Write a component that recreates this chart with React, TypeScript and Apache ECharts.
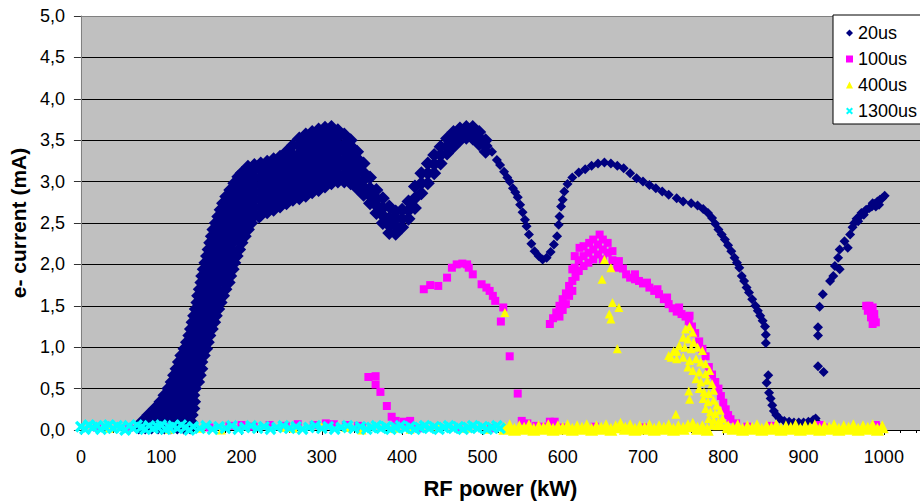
import React, { useEffect, useRef } from "react";
import * as echarts from "echarts";

const FONT = "'Liberation Sans', Arial, sans-serif";

const seriesNames = ["20us", "100us", "400us", "1300us"];
const xTickValues = [0, 100, 200, 300, 400, 500, 600, 700, 800, 900, 1000];

// 20us - steep rising band read as rows: [y, x values]
const s20Rows: [number, number[]][] = [
  [0.03, [72, 80, 88, 96, 104, 112, 120, 128, 136]],
  [0.1, [76, 84, 92, 100, 108, 116, 124, 132, 137]],
  [0.18, [84, 92, 100, 108, 116, 124, 132, 138]],
  [0.26, [92, 100, 108, 116, 124, 132, 140]],
  [0.34, [99, 106, 113, 120, 127, 134, 141]],
  [0.42, [104, 111, 118, 125, 132, 140]],
  [0.5, [109, 116, 123, 130, 137, 142]],
  [0.58, [113, 120, 127, 134, 141, 146]],
  [0.66, [116, 123, 130, 137, 144, 148]],
  [0.74, [119, 126, 133, 140, 147, 150]],
  [0.82, [122, 129, 136, 143, 150]],
  [0.9, [125, 132, 139, 146, 153]],
  [0.98, [129, 136, 143, 150, 156]],
  [1.06, [132, 139, 146, 153, 158]],
  [1.14, [135, 142, 149, 156, 160]],
  [1.22, [137, 144, 151, 158, 163]],
  [1.3, [139, 146, 153, 160, 166]],
  [1.38, [141, 148, 155, 162, 168]],
  [1.46, [143, 150, 157, 164, 171]],
  [1.54, [145, 152, 159, 166, 174]],
  [1.62, [146, 153, 160, 167, 177]],
  [1.7, [148, 155, 162, 169, 180]],
  [1.78, [150, 157, 164, 171, 178, 184]],
  [1.86, [151, 158, 165, 172, 179, 186]],
  [1.94, [153, 160, 167, 174, 181, 189]],
  [2.02, [155, 162, 169, 176, 183, 191]],
  [2.1, [157, 164, 171, 178, 185, 194]],
  [2.18, [159, 166, 173, 180, 187, 197]],
  [2.26, [161, 168, 175, 182, 189, 200]],
  [2.34, [163, 170, 177, 184, 191, 198, 204]],
  [2.42, [165, 172, 179, 186, 193, 200, 208]],
  [2.5, [168, 175, 182, 189, 196, 204, 212]],
  [2.58, [171, 178, 185, 192, 199, 206, 214, 222]],
  [2.66, [174, 181, 188, 195]],
  [2.74, [177, 184, 191, 197]],
  [2.82, [181, 188, 195]],
  [2.9, [186, 193]],
  [2.98, [191, 197]],
  [3.06, [196]],
];

// 20us - humps read as columns: [x, y values]
const s20Cols: [number, number[]][] = [
  [200, [2.56, 2.65, 2.74, 2.83, 2.92, 3.01, 3.1]],
  [208, [2.58, 2.67, 2.76, 2.85, 2.94, 3.03, 3.12, 3.18]],
  [216, [2.6, 2.69, 2.78, 2.87, 2.96, 3.05, 3.14, 3.2]],
  [224, [2.6, 2.69, 2.78, 2.87, 2.96, 3.05, 3.14, 3.22]],
  [232, [2.63, 2.72, 2.81, 2.9, 2.99, 3.08, 3.17, 3.24]],
  [240, [2.66, 2.75, 2.84, 2.93, 3.02, 3.11, 3.2, 3.27]],
  [248, [2.7, 2.79, 2.88, 2.97, 3.06, 3.15, 3.24, 3.3]],
  [256, [2.74, 2.83, 2.92, 3.01, 3.1, 3.19, 3.28, 3.36]],
  [264, [2.78, 2.87, 2.96, 3.05, 3.14, 3.23, 3.32, 3.44]],
  [272, [2.8, 2.89, 2.98, 3.07, 3.16, 3.25, 3.34, 3.43, 3.52]],
  [280, [2.83, 2.92, 3.01, 3.1, 3.19, 3.28, 3.37, 3.46, 3.57]],
  [288, [2.87, 2.96, 3.05, 3.14, 3.23, 3.32, 3.41, 3.5, 3.6]],
  [296, [2.9, 2.99, 3.08, 3.17, 3.26, 3.35, 3.44, 3.53, 3.63]],
  [304, [2.94, 3.03, 3.12, 3.21, 3.3, 3.39, 3.48, 3.57, 3.65]],
  [312, [2.98, 3.07, 3.16, 3.25, 3.34, 3.43, 3.52, 3.61, 3.66]],
  [320, [3.0, 3.09, 3.18, 3.27, 3.36, 3.45, 3.54, 3.62]],
  [328, [3.0, 3.09, 3.18, 3.27, 3.36, 3.45, 3.57]],
  [336, [2.98, 3.07, 3.16, 3.25, 3.34, 3.43, 3.5]],
  [344, [2.92, 3.01, 3.1, 3.19, 3.28, 3.36]],
  [352, [2.84, 2.93, 3.02, 3.11, 3.22]],
  [360, [2.74, 2.83, 2.92, 3.05]],
  [368, [2.62, 2.71, 2.8, 2.9]],
  [376, [2.5, 2.59, 2.68, 2.8]],
  [384, [2.38, 2.47, 2.56, 2.7]],
  [392, [2.37, 2.46, 2.55, 2.64]],
  [400, [2.45, 2.55, 2.66]],
  [408, [2.55, 2.65, 2.76]],
  [416, [2.68, 2.8, 2.94]],
  [424, [2.86, 2.98, 3.1]],
  [432, [2.98, 3.1, 3.22]],
  [440, [3.1, 3.21, 3.32]],
  [448, [3.22, 3.32, 3.42]],
  [456, [3.34, 3.43, 3.52]],
  [464, [3.42, 3.51, 3.6]],
  [472, [3.5, 3.57, 3.64]],
  [480, [3.53, 3.6, 3.66]],
  [488, [3.52, 3.59, 3.66]],
  [496, [3.45, 3.53, 3.6]],
  [504, [3.36, 3.43, 3.5]],
];

// 20us - thin trace, single points [x, y]
const s20Trace: [number, number][] = [
  [512, 3.36], [518, 3.26], [522, 3.2], [527, 3.12], [531, 3.05], [534, 3.0], [538, 2.92],
  [541, 2.87], [544, 2.81], [547, 2.72], [550, 2.63], [553, 2.54], [555, 2.46], [558, 2.36],
  [561, 2.25], [565, 2.16], [570, 2.1], [575, 2.06], [580, 2.08], [585, 2.15], [589, 2.24],
  [593, 2.34], [595, 2.48], [596, 2.58], [598, 2.7], [600, 2.78], [602, 2.88], [606, 2.97],
  [612, 3.05], [620, 3.11], [628, 3.15], [636, 3.19], [644, 3.22], [652, 3.23], [660, 3.22],
  [668, 3.19], [676, 3.16], [684, 3.1], [692, 3.04], [700, 3.0], [708, 2.96], [716, 2.92],
  [724, 2.88], [732, 2.84], [742, 2.8], [750, 2.76], [760, 2.74], [768, 2.71], [775, 2.67],
  [781, 2.62], [786, 2.56], [790, 2.49], [794, 2.42], [798, 2.36], [802, 2.3], [806, 2.23],
  [810, 2.16], [814, 2.08], [817, 2.02], [820, 1.96], [823, 1.86], [826, 1.8], [829, 1.72],
  [832, 1.66], [836, 1.58], [840, 1.5], [843, 1.44], [846, 1.38], [849, 1.32], [852, 1.25],
  [853, 1.15], [853, 1.05], [856, 0.66], [854, 0.57], [857, 0.45], [859, 0.38], [861, 0.3],
  [863, 0.23], [866, 0.18], [870, 0.14], [876, 0.11], [882, 0.1], [888, 0.09], [894, 0.09],
  [900, 0.09], [906, 0.1], [912, 0.12], [915, 0.14], [918, 0.08],
  [918, 0.77], [925, 0.7], [918, 1.14], [918, 1.24], [920, 1.49], [924, 1.64], [933, 1.8],
  [937, 1.86], [939, 1.98], [945, 1.94], [943, 2.08], [945, 2.18], [955, 2.2], [951, 2.28],
  [958, 2.36], [961, 2.45], [963, 2.5], [966, 2.55], [970, 2.58], [972, 2.62], [975, 2.6],
  [978, 2.66], [982, 2.68], [985, 2.7], [988, 2.73], [992, 2.76], [995, 2.78], [998, 2.8],
  [1001, 2.83], [968, 2.52], [976, 2.64], [986, 2.74], [994, 2.72], [990, 2.7],
];

// 100us
const s100: [number, number][] = [
  [20, 0.03], [60, 0.03], [110, 0.04], [160, 0.03], [185, 0.05], [200, 0.06], [215, 0.04],
  [235, 0.06], [255, 0.05], [270, 0.07], [290, 0.06], [305, 0.08], [315, 0.07], [330, 0.06],
  [345, 0.05], [350, 0.03], [420, 0.02], [470, 0.02], [510, 0.02],
  [358, 0.64], [367, 0.65], [367, 0.55], [373, 0.46], [381, 0.29], [387, 0.16], [392, 0.11],
  [402, 0.1], [410, 0.11],
  [427, 1.7], [435, 1.75], [445, 1.74], [456, 1.84], [462, 1.96], [468, 2.0], [475, 2.01],
  [481, 2.0], [483, 1.96], [488, 1.88], [499, 1.76], [505, 1.72], [509, 1.68], [513, 1.62],
  [516, 1.56], [526, 1.48], [523, 1.31], [534, 0.89], [544, 0.44],
  [549, 0.11], [556, 0.08], [567, 0.05], [577, 0.04], [584, 0.1], [590, 0.1],
  [584, 1.28], [588, 1.35], [592, 1.42], [596, 1.37], [596, 1.5], [600, 1.58], [600, 1.45],
  [604, 1.65], [604, 1.52], [608, 1.74], [608, 1.62], [612, 1.94], [612, 1.8], [612, 1.68],
  [615, 2.1], [615, 1.96], [616, 1.85], [621, 2.2], [620, 2.05], [620, 1.92], [626, 2.22],
  [626, 2.1], [626, 1.98], [633, 2.26], [632, 2.14], [632, 2.02], [638, 2.3], [638, 2.18],
  [638, 2.06], [646, 2.36], [644, 2.24], [644, 2.12], [650, 2.3], [650, 2.18], [650, 2.06],
  [656, 2.26], [656, 2.14], [662, 2.16], [662, 2.05], [670, 2.04], [668, 1.96], [675, 1.95],
  [679, 1.88], [684, 1.84], [690, 1.82], [695, 1.8], [700, 1.77], [708, 1.72], [714, 1.68],
  [720, 1.64], [726, 1.58], [732, 1.52], [737, 1.47], [742, 1.43], [748, 1.4], [753, 1.37],
  [757, 1.31], [761, 1.25], [765, 1.17], [770, 1.07], [774, 0.98], [778, 0.89], [782, 0.76],
  [786, 0.67], [790, 0.58], [794, 0.5], [797, 0.41], [800, 0.33], [803, 0.25], [806, 0.18],
  [809, 0.13], [816, 0.08],
  [690, 1.88], [705, 1.78], [718, 1.7], [730, 1.6], [745, 1.48], [758, 1.38],
  [600, 0.03], [640, 0.04], [700, 0.03], [760, 0.03], [830, 0.04], [860, 0.05], [920, 0.06],
  [925, 0.03], [990, 0.06], [995, 0.03],
  [978, 1.5], [982, 1.5], [986, 1.48], [980, 1.44], [984, 1.42], [988, 1.4], [984, 1.36],
  [988, 1.33], [990, 1.3], [986, 1.28],
];

// 400us - scattered points
const s400: [number, number][] = [
  [35, 0.02], [110, 0.01], [150, 0.02], [175, 0.0], [255, 0.03], [265, 0.02], [300, 0.04],
  [330, 0.03], [350, 0.0], [390, 0.02], [410, 0.01], [445, 0.03], [480, 0.02], [505, 0.01],
  [528, 1.42], [652, 2.06], [660, 1.96], [649, 1.82], [662, 1.54], [670, 1.48], [658, 1.4],
  [660, 1.34], [668, 0.98], [741, 0.19], [757, 0.47], [758, 0.37], [735, 0.88], [742, 0.95],
  [753, 1.22], [758, 1.25], [762, 1.18], [750, 1.12], [756, 1.1], [763, 1.06], [745, 1.02],
  [752, 1.0], [760, 0.98], [768, 1.0], [774, 0.96], [738, 0.95], [732, 0.9], [742, 0.86],
  [750, 0.88], [758, 0.84], [766, 0.86], [772, 0.82], [778, 0.8], [756, 0.76], [762, 0.72],
  [770, 0.7], [778, 0.68], [783, 0.72], [766, 0.62], [772, 0.58], [780, 0.6], [786, 0.56],
  [770, 0.5], [776, 0.46], [782, 0.44], [788, 0.48], [775, 0.38], [781, 0.34], [788, 0.36],
  [792, 0.3], [778, 0.26], [784, 0.22], [790, 0.2], [796, 0.24], [782, 0.14], [788, 0.12],
  [794, 0.1], [799, 0.14], [786, 0.06], [792, 0.05], [798, 0.06], [803, 0.05],
];

// 400us - dense strip along zero
const s400Strip: [number, number][] = [
  [528, 0.02], [534, 0.05], [540, 0.01], [546, 0.04], [552, 0.02], [558, 0.05], [564, 0.01],
  [570, 0.04], [576, 0.02], [582, 0.05], [588, 0.01], [594, 0.04], [600, 0.02], [606, 0.05],
  [612, 0.01], [618, 0.04], [624, 0.02], [630, 0.05], [636, 0.01], [642, 0.04], [648, 0.02],
  [654, 0.05], [660, 0.01], [666, 0.04], [672, 0.07], [678, 0.02], [684, 0.05], [690, 0.01],
  [696, 0.04], [702, 0.02], [708, 0.05], [714, 0.01], [720, 0.04], [726, 0.02], [732, 0.05],
  [738, 0.01], [744, 0.04], [750, 0.02], [756, 0.05], [762, 0.07], [768, 0.02], [774, 0.04],
  [780, 0.01], [806, 0.04], [812, 0.02], [818, 0.05], [824, 0.01], [830, 0.04], [836, 0.02],
  [842, 0.05], [848, 0.01], [854, 0.04], [860, 0.02], [866, 0.05], [872, 0.01], [878, 0.04],
  [884, 0.02], [890, 0.05], [896, 0.01], [902, 0.04], [908, 0.02], [914, 0.05], [920, 0.01],
  [926, 0.04], [932, 0.02], [938, 0.05], [944, 0.01], [950, 0.04], [956, 0.02], [962, 0.05],
  [968, 0.01], [974, 0.04], [980, 0.02], [986, 0.05], [992, 0.01], [998, 0.04],
];

// 1300us
const s1300: [number, number][] = [
  [0, 0.04], [5, 0.01], [10, 0.06], [15, 0.03], [20, 0.05], [25, 0.01], [30, 0.04], [35, 0.06],
  [40, 0.02], [45, 0.05], [50, 0.03], [55, 0.0], [60, 0.05], [65, 0.02], [70, 0.06], [75, 0.03],
  [80, 0.01], [85, 0.05], [90, 0.02], [95, 0.04], [100, 0.06], [105, 0.01], [110, 0.03],
  [115, 0.05], [120, 0.02], [125, 0.06], [130, 0.03], [135, 0.0], [140, 0.04], [148, 0.02],
  [156, 0.05], [164, 0.01], [172, 0.04], [180, 0.02], [188, 0.05], [196, 0.01], [204, 0.03],
  [212, 0.05], [220, 0.02], [228, 0.04], [236, 0.01], [244, 0.03], [252, 0.05], [260, 0.02],
  [268, 0.04], [276, 0.01], [284, 0.03], [292, 0.05], [300, 0.02], [308, 0.04], [316, 0.01],
  [324, 0.03], [332, 0.05], [340, 0.02], [348, 0.04], [356, 0.01], [362, 0.03], [368, 0.05],
  [374, 0.02], [380, 0.04], [386, 0.01], [392, 0.03], [398, 0.05], [404, 0.02], [410, 0.04],
  [416, 0.01], [422, 0.03], [428, 0.05], [434, 0.02], [440, 0.04], [446, 0.01], [452, 0.03],
  [458, 0.05], [464, 0.02], [470, 0.04], [476, 0.01], [482, 0.03], [488, 0.05], [494, 0.02],
  [500, 0.04], [506, 0.01], [512, 0.03], [518, 0.05], [522, 0.02],
];

const CROSS = "path://M0,2L2,0L5,3L8,0L10,2L7,5L10,8L8,10L5,7L2,10L0,8L3,5Z";

export default function App() {
  const ref = useRef<HTMLDivElement>(null);
  useEffect(() => {
    if (!ref.current) return;
    const chart = echarts.init(ref.current, null, { renderer: "svg" });
    const band20: [number, number][] = [
      ...s20Rows.flatMap(([y, xs]) => xs.map((x) => [x, y] as [number, number])),
      ...s20Cols.flatMap(([x, ys]) => ys.map((y) => [x, y] as [number, number])),
    ];
    chart.setOption({
      animation: false,
      backgroundColor: "#ffffff",
      grid: {
        left: 79,
        right: 0,
        top: 16,
        bottom: 73,
        show: true,
        backgroundColor: "#c0c0c0",
        borderWidth: 0,
      },
      legend: {
        orient: "vertical",
        left: 833,
        top: 15,
        itemWidth: 7,
        itemHeight: 7,
        itemGap: 8,
        padding: [9, 10, 4, 13],
        backgroundColor: "#ffffff",
        borderColor: "#000000",
        borderWidth: 1,
        borderRadius: 0,
        textStyle: { fontSize: 18, color: "#000", fontFamily: FONT, lineHeight: 18 },
        data: seriesNames,
      },
      xAxis: {
        type: "value",
        min: 0,
        max: 1045,
        interval: 100,
        name: "RF power (kW)",
        nameLocation: "middle",
        nameGap: 47,
        nameTextStyle: { fontSize: 22, fontWeight: "bold", color: "#000", fontFamily: FONT },
        axisLine: { show: true, lineStyle: { color: "#000", width: 1 } },
        axisTick: { show: true, length: 5, lineStyle: { color: "#000" } },
        minorTick: { show: true, splitNumber: 5, length: 3, lineStyle: { color: "#000" } },
        splitLine: { show: false },
        axisLabel: {
          fontSize: 18,
          color: "#000",
          fontFamily: FONT,
          margin: 18,
          showMaxLabel: false,
          formatter: (v: number) => (xTickValues.includes(v) ? String(v) : ""),
        },
      },
      yAxis: {
        type: "value",
        min: 0,
        max: 5,
        interval: 0.5,
        name: "e- current (mA)",
        nameLocation: "middle",
        nameGap: 50,
        nameTextStyle: { fontSize: 21, fontWeight: "bold", color: "#000", fontFamily: FONT },
        axisLine: { show: true, lineStyle: { color: "#808080", width: 1 } },
        axisTick: { show: true, length: 7, lineStyle: { color: "#333" } },
        splitLine: {
          show: true,
          lineStyle: {
            color: ["#000", "#000", "#000", "#000", "#000", "#000", "#000", "#000", "#000", "#000", "#808080"],
            width: 1,
          },
        },
        axisLabel: {
          fontSize: 18,
          color: "#000",
          fontFamily: FONT,
          margin: 16,
          formatter: (v: number) => v.toFixed(1).replace(".", ","),
        },
      },
      series: [
        {
          name: "20us",
          type: "scatter",
          symbol: "diamond",
          symbolSize: 14,
          itemStyle: { color: "#000080", opacity: 1 },
          data: band20,
        },
        {
          name: "20us",
          type: "scatter",
          symbol: "diamond",
          symbolSize: 10,
          itemStyle: { color: "#000080", opacity: 1 },
          data: s20Trace,
        },
        {
          name: "100us",
          type: "scatter",
          symbol: "rect",
          symbolSize: 8,
          itemStyle: { color: "#ff00ff", opacity: 1 },
          data: s100,
        },
        {
          name: "400us",
          type: "scatter",
          symbol: "triangle",
          symbolSize: 9,
          itemStyle: { color: "#ffff00", opacity: 1 },
          data: s400,
        },
        {
          name: "400us",
          type: "scatter",
          symbol: "triangle",
          symbolSize: 13,
          itemStyle: { color: "#ffff00", opacity: 1 },
          data: s400Strip,
        },
        {
          name: "1300us",
          type: "scatter",
          symbol: CROSS,
          symbolSize: 12,
          itemStyle: { color: "#00ffff", opacity: 1 },
          data: s1300,
        },
      ],
    });
    return () => chart.dispose();
  }, []);
  return (
    <div
      ref={ref}
      style={{ position: "absolute", left: 0, top: 0, width: 920, height: 504, background: "#fff" }}
    />
  );
}
